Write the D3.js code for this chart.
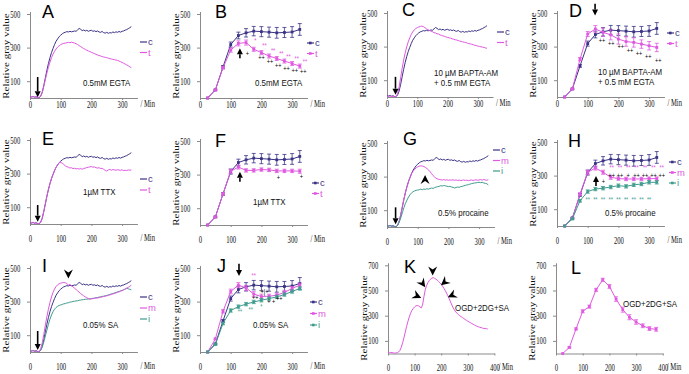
<!DOCTYPE html>
<html>
<head>
<meta charset="utf-8">
<script src="https://cdn.jsdelivr.net/npm/d3@7"></script>
<style>
  body { margin: 0; background: #fff; }
  svg { display: block; }
</style>
</head>
<body>
<svg id="fig" width="689" height="374"></svg>
<script>
// ---- data: continuous traces, sampled every 5 min ----
const traceTime = d3.range(0, 331, 5);
const ctrlTrace = [8,6,9,5,7,3,2,12,35,75, 120,165,205,240,270,295,318,338,352,365,
  374,382,388,391,395,393,397,394,396,399, 397,405,414,409,401,405,399,403,397,401,
  403,397,400,395,399,393,391,396,389,386, 391,385,389,387,393,389,394,391,396,392,
  397,399,404,407,413,418,425];
const egtaTrace = [8,6,9,5,7,3,2,12,33,70, 110,148,183,214,240,261,278,292,303,311,
  318,322,325,327,329,331,329,332,330,327, 323,318,312,306,300,294,289,284,280,276,
  272,268,264,260,256,253,250,247,244,242, 240,237,235,232,230,228,226,224,220,216,
  212,207,202,197,192,186,180];
const baptaTrace = [5,4,6,3,5,2,3,20,60,115, 170,220,262,298,328,352,372,388,400,408,
  413,417,420,422,419,413,406,401,396,392, 389,383,381,376,375,369,367,363,361,357,
  355,352,350,346,344,341,339,336,333,331, 328,326,324,321,318,316,314,311,308,306,
  303,301,299,297,295,292,290];
const ttxTrace = [8,6,9,5,7,3,2,12,35,75, 120,165,205,240,270,295,318,338,352,365,
  366,362,355,346,341,338,333,335,330,332, 328,330,327,330,326,330,333,336,338,340,
  342,338,340,335,333,335,330,332,325,320, 315,322,325,320,324,322,320,323,321,320,
  322,318,320,318,322,320,322];
const procMTrace = [8,6,9,5,7,3,2,12,35,75, 120,165,205,240,270,295,318,332,343,352,
  358,362,364,363,360,355,348,340,330,318, 306,297,290,286,283,281,280,282,279,281,
  278,280,279,281,278,280,277,279,276,278, 280,277,279,276,278,280,277,279,281,278,
  280,282,279,283,280,278,282];
const procITrace = [8,6,9,5,7,3,2,10,30,55, 85,115,140,160,178,192,203,210,215,218,
  220,222,225,222,226,224,228,225,229,232, 230,234,238,240,242,246,244,247,245,243,
  240,242,238,236,232,235,238,236,240,242, 245,248,250,252,255,258,260,262,263,265,
  266,264,266,262,260,258,250];
const saMTrace = [8,6,9,5,7,3,2,20,55,105, 160,210,255,295,328,355,375,390,400,406,
  410,412,414,412,408,398,402,395,388,380, 372,364,356,348,341,334,328,323,318,315,
  316,318,320,322,321,324,326,328,330,332, 335,337,340,342,346,348,352,355,358,362,
  366,370,375,380,385,390,398];
const saITrace = [8,6,9,5,7,3,2,10,30,60, 95,130,165,195,220,240,255,265,272,277,
  280,283,287,288,292,293,297,298,301,302, 304,305,308,309,311,312,314,314,316,316,
  318,320,320,323,324,327,328,331,332,335, 336,340,342,346,348,352,354,358,360,364,
  366,371,374,379,376,373,370];
const ogdTime = d3.range(0, 376, 5);
const ogdTrace = [8,6,9,7,5,3,4,6,12,25, 50,85,125,170,215,255,290,320,342,358,
  370,378,381,378,370,362,385,450,505,540, 562,578,590,598,602,597,590,582,572,562,
  550,535,518,500,480,458,435,410,385,362, 345,330,318,308,300,292,285,278,270,263,
  256,250,244,238,232,226,221,216,212,208, 205,202,198,200,196,195];

// ---- data: means with error bars, every 25 min ----
const meanTime = [25,50,75,100,125,150,175,200,225,250,275,300,325];
const ctrlMean = [0,48,185,318,372,388,398,395,392,388,390,393,408];
const ctrlErr  = [0,4,8,15,20,25,28,30,30,32,30,32,35];
const egtaMean = [0,48,180,285,325,330,290,270,250,235,220,205,190];
const egtaErr  = [0,4,8,12,15,15,12,12,12,12,12,12,12];
const baptaMean = [0,48,225,375,405,385,370,345,330,325,315,305,295];
const baptaErr  = [0,4,10,15,20,25,30,30,28,28,25,25,25];
const ttxMean = [0,48,185,320,345,325,325,330,328,322,322,322,320];
const ttxErr  = [0,4,8,12,12,10,10,10,10,10,10,10,12];
const procMMean = [0,45,190,320,345,320,290,282,280,280,280,282,282];
const procMErr  = [0,4,8,12,12,12,12,10,10,10,10,10,10];
const procIMean = [0,42,150,205,220,225,232,240,236,245,250,260,260];
const procIErr  = [0,4,8,10,10,10,10,10,10,10,10,10,10];
const saMMean = [0,78,242,360,398,382,345,330,332,338,355,378,398];
const saMErr  = [0,5,10,14,15,15,14,14,12,12,12,12,12];
const saIMean = [0,45,170,247,270,285,298,308,318,328,342,360,378];
const saIErr  = [0,4,8,10,10,10,10,10,10,10,10,10,10];
const ogdMeanTime = [25,50,75,100,125,150,175,200,225,250,275,300,325,350,375];
const ogdMean = [0,48,195,335,372,505,585,532,432,348,288,250,220,198,192];
const ogdErr  = [0,5,8,12,12,12,12,15,18,20,20,18,15,15,15];

// ---- significance marks: [time, value, text] ----
const marksB = { m: [[180,340,"*"],[210,312,"**"],[238,282,"**"],[265,262,"**"],[288,246,"**"],[315,236,"**"],[342,216,"**"]],
                 k: [[154,266,"+"],[200,240,"++"],[228,216,"++"],[255,196,"++"],[282,177,"++"],[309,163,"++"],[336,157,"++"]] };
const marksD = { k: [[147,335,"++"],[177,320,"++"],[208,300,"++"],[238,276,"++"],[267,260,"++"],[297,240,"++"],[330,220,"++"]] };
const marksF = { k: [[255,284,"+"],[330,287,"+"]] };
const marksH = { m: [[178,350,"**"],[205,350,"**"],[232,350,"**"],[259,350,"**"],[287,350,"**"],[314,350,"**"],[341,350,"**"]],
                 k: [[151,262,"+"],[178,300,"++"],[205,300,"++"],[232,300,"+"],[259,300,"++"],[287,300,"++"],[314,300,"++"],[341,300,"++"]],
                 i: [[100,160,"**"],[125,160,"**"],[150,160,"**"],[175,160,"**"],[200,160,"**"],[225,160,"**"],[250,160,"**"],[275,160,"**"],[300,160,"**"]] };
const marksJ = { m: [[175,455,"**"]],
                 k: [[180,325,"++"],[210,360,"+|+"],[232,298,"+ +"],[258,318,"++"]],
                 i: [[130,240,"**"],[165,255,"**"],[200,270,"*"]] };

const NAVY = "#3a3386", MAG = "#e058e0", TEAL = "#3f9c8e", AXIS = "#8a8a8a";
const colorOf = { c: NAVY, t: MAG, m: MAG, i: TEAL, k: "#000" };

const svg = d3.select("#fig");

// panel layout (pixel geometry)
const panels = [
  { id:"A", left:30,  bottom:98,  kx:0.307, ky:0.168, kind:"trace", time:traceTime,
    series:[["c",ctrlTrace],["t",egtaTrace]], leg:[140,42,10.5], note:[[83,86,"0.5mM EGTA"]],
    letter:[42,18], arrows:[[25,125,5]] },
  { id:"B", left:200, bottom:98,  kx:0.307, ky:0.168, kind:"mean",
    series:[["c",ctrlMean,ctrlErr],["t",egtaMean,egtaErr]], leg:[307,43,10.5], note:[[255,86,"0.5mM EGTA"]],
    letter:[215,18], arrows:[[130,236,296]], marks:marksB },
  { id:"C", left:387, bottom:97,  kx:0.303, ky:0.168, kind:"trace", time:traceTime,
    series:[["c",ctrlTrace],["t",baptaTrace]], leg:[497,32,10.5], note:[[434,76,"10 µM BAPTA-AM"],[434,86,"+ 0.5 mM EGTA"]],
    letter:[402,16], arrows:[[28,120,14]] },
  { id:"D", left:557, bottom:97,  kx:0.307, ky:0.168, kind:"mean",
    series:[["c",ctrlMean,ctrlErr],["t",baptaMean,baptaErr]], leg:[667,33,10.5], note:[[598,75,"10 µM BAPTA-AM"],[598,85,"+ 0.5 mM EGTA"]],
    letter:[569,17], arrows:[[124,555,485]], marks:marksD },
  { id:"E", left:30,  bottom:224, kx:0.307, ky:0.168, kind:"trace", time:traceTime,
    series:[["c",ctrlTrace],["t",ttxTrace]], leg:[140,179,11], note:[[83,195,"1µM TTX"]],
    letter:[42,145], arrows:[[25,113,14]] },
  { id:"F", left:200, bottom:225, kx:0.307, ky:0.168, kind:"mean",
    series:[["c",ctrlMean,ctrlErr],["t",ttxMean,ttxErr]], leg:[312,183,10.5], note:[[253,205,"1µM TTX"]],
    letter:[215,147], arrows:[[130,258,317]], marks:marksF },
  { id:"G", left:387, bottom:227, kx:0.307, ky:0.168, kind:"trace", time:traceTime,
    series:[["c",ctrlTrace],["m",procMTrace],["i",procITrace]], leg:[493,150,10.5], note:[[438,216,"0.5% procaine"]],
    letter:[403,145], arrows:[[28,117,17]], heads:[[124,310,-90]] },
  { id:"H", left:557, bottom:226, kx:0.307, ky:0.168, kind:"mean",
    series:[["c",ctrlMean,ctrlErr],["m",procMMean,procMErr],["i",procIMean,procIErr]], leg:[669,162,10.5], note:[[605,216,"0.5% procaine"]],
    letter:[568,147], arrows:[[127,238,298]], marks:marksH },
  { id:"I", left:30,  bottom:352, kx:0.307, ky:0.168, kind:"trace", time:traceTime,
    series:[["c",ctrlTrace],["i",saITrace],["m",saMTrace]], legOrder:["c","m","i"], leg:[140,297,11], note:[[83,328,"0.05% SA"]],
    letter:[42,272], arrows:[[25,125,12]], heads:[[125,437,90]] },
  { id:"J", left:200, bottom:352, kx:0.307, ky:0.168, kind:"mean",
    series:[["c",ctrlMean,ctrlErr],["m",saMMean,saMErr],["i",saIMean,saIErr]], leg:[310,302,11.5], note:[[253,328,"0.05% SA"]],
    letter:[217,272], arrows:[[127,525,452]], marks:marksJ },
  { id:"K", left:388, bottom:353.5, kx:0.266, ky:0.126, kind:"trace", time:ogdTime, yMax:720, yTicks:[100,300,500,700], xMax:400,
    series:[["m",ogdTrace]], note:[[455,311,"OGD+2DG+SA"]],
    letter:[404,273], heads:[[125,441,25],[140,525,55],[168,620,90],[199,541,140],[225,446,155]] },
  { id:"L", left:556, bottom:353.5, kx:0.267, ky:0.126, kind:"mean", yMax:720, yTicks:[100,300,500,700], xMax:400, time:ogdMeanTime,
    series:[["m",ogdMean,ogdErr]], note:[[623,307,"OGD+2DG+SA"]],
    letter:[571,274] }
];

function arrow(g, x1, y1, x2, y2) {
  const a = Math.atan2(y2 - y1, x2 - x1), hl = 6, hw = 3;
  const bx = x2 - hl * Math.cos(a), by = y2 - hl * Math.sin(a);
  g.append("line").attr("x1", x1).attr("y1", y1).attr("x2", bx).attr("y2", by)
    .attr("stroke", "#000").attr("stroke-width", 1.6);
  g.append("path")
    .attr("d", `M${x2},${y2}L${bx - hw * Math.sin(a)},${by + hw * Math.cos(a)}L${bx + hw * Math.sin(a)},${by - hw * Math.cos(a)}Z`)
    .attr("fill", "#000");
}

function chevron(g, x, y, deg) {
  g.append("path").attr("d", "M0,0L-9,-4.5L-6,0L-9,4.5Z")
    .attr("transform", `translate(${x},${y}) rotate(${deg})`)
    .attr("fill", "#000");
}

function drawPanel(p) {
  const g = svg.append("g").attr("class", "panel-" + p.id);
  const yMax = p.yMax || 515, xMax = p.xMax || 350;
  const x = d3.scaleLinear().domain([0, xMax]).range([p.left, p.left + xMax * p.kx]);
  const y = d3.scaleLinear().domain([0, yMax]).range([p.bottom, p.bottom - yMax * p.ky]);
  const row1 = p.bottom < 110;

  // y axis
  const ya = g.append("g").attr("transform", `translate(${p.left},0)`)
    .call(d3.axisLeft(y).tickValues(p.yTicks || [100, 300, 500]).tickSize(3).tickSizeOuter(0));
  // x axis
  const xa = g.append("g").attr("transform", `translate(0,${p.bottom})`)
    .call(d3.axisBottom(x).tickValues(xMax === 400 ? [0, 100, 200, 300, 400] : [0, 100, 200, 300])
      .tickSize(2).tickSizeOuter(0).tickPadding(row1 ? 1 : 9));
  [ya, xa].forEach(a => {
    a.select(".domain").attr("stroke", AXIS);
    a.selectAll(".tick line").attr("stroke", AXIS);
    a.selectAll("text").attr("font-family", "Liberation Serif, serif").attr("font-size", 9.5).attr("fill", "#111");
  });
  ya.selectAll("text").attr("x", -14).attr("transform", "scale(0.7,1)");
  xa.selectAll("text").attr("transform", "scale(0.7,1)");

  const minY = p.bottom + (row1 ? 8.5 : 16.5);
  g.append("text")
    .attr("transform", `translate(${x(xMax) + (xMax === 400 ? 4 : 3)},${minY}) scale(0.7,1)`)
    .attr("font-family", "Liberation Serif, serif").attr("font-size", 9.5).attr("fill", "#111")
    .text("/ Min");

  g.append("text")
    .attr("transform", `translate(${p.left - 21},${(y(500) + p.bottom) / 2 + (p.yMax ? -4 : 0)}) scale(0.72,1) rotate(-90)`)
    .attr("text-anchor", "middle")
    .attr("font-family", "Liberation Serif, serif").attr("font-size", 11).attr("fill", "#111")
    .text("Relative gray value");

  // data
  const line = d3.line().x(d => x(d[0])).y(d => y(d[1]));
  if (p.kind === "trace") {
    p.series.forEach(([name, vals]) => {
      const pts = p.time.map((t, i) => [t, vals[i]]);
      g.append("path").attr("d", line(pts)).attr("fill", "none")
        .attr("stroke", colorOf[name]).attr("stroke-width", 1);
    });
  } else {
    const times = p.time || meanTime;
    p.series.forEach(([name, vals, errs]) => {
      const col = colorOf[name];
      const pts = times.map((t, i) => [t, vals[i], errs[i]]);
      g.append("path").attr("d", line(pts)).attr("fill", "none")
        .attr("stroke", col).attr("stroke-width", 1);
      const eb = g.append("g").attr("stroke", col).attr("stroke-width", 0.8);
      pts.filter(d => d[2] > 0).forEach(d => {
        eb.append("line").attr("x1", x(d[0])).attr("x2", x(d[0]))
          .attr("y1", y(d[1] - d[2])).attr("y2", y(d[1] + d[2]));
        [d[1] - d[2], d[1] + d[2]].forEach(v => eb.append("line")
          .attr("x1", x(d[0]) - 2).attr("x2", x(d[0]) + 2).attr("y1", y(v)).attr("y2", y(v)));
      });
      g.selectAll(null).data(pts).enter().append("rect")
        .attr("x", d => x(d[0]) - 1.4).attr("y", d => y(d[1]) - 1.4)
        .attr("width", 2.8).attr("height", 2.8).attr("fill", col);
    });
  }

  // significance marks
  if (p.marks) {
    Object.entries(p.marks).forEach(([k, arr]) => {
      g.selectAll(null).data(arr).enter().append("text")
        .attr("transform", d => `translate(${x(d[0])},${y(d[1]) + 2.5}) scale(0.8,1)`)
        .attr("text-anchor", "middle")
        .attr("font-family", "Liberation Sans, Arial, sans-serif").attr("font-size", 7)
        .attr("fill", colorOf[k]).text(d => d[2]);
    });
  }

  // legend
  if (p.leg) {
    const order = p.legOrder || p.series.map(s => s[0]);
    order.forEach((name, i) => {
      const ly = p.leg[1] + i * p.leg[2];
      g.append("line").attr("x1", p.leg[0]).attr("x2", p.leg[0] + 7).attr("y1", ly).attr("y2", ly)
        .attr("stroke", colorOf[name]).attr("stroke-width", 1.2);
      if (p.kind === "mean") {
        g.append("rect").attr("x", p.leg[0] + 2).attr("y", ly - 1.3).attr("width", 2.6).attr("height", 2.6)
          .attr("fill", colorOf[name]);
      }
      g.append("text").attr("x", p.leg[0] + 8).attr("y", ly + 3)
        .attr("font-family", "Liberation Sans, Arial, sans-serif").attr("font-size", 9.5)
        .attr("fill", colorOf[name]).text(name);
    });
  }

  // notes
  (p.note || []).forEach(([nx, ny, txt]) => {
    g.append("text").attr("transform", `translate(${nx},${ny}) scale(0.88,1)`)
      .attr("font-family", "Liberation Sans, Arial, sans-serif").attr("font-size", 9)
      .attr("fill", "#111").text(txt);
  });

  // panel letter
  g.append("text").attr("x", p.letter[0]).attr("y", p.letter[1])
    .attr("font-family", "Liberation Sans, Arial, sans-serif").attr("font-size", 18)
    .attr("fill", "#000").text(p.id);

  (p.arrows || []).forEach(([t, v1, v2]) => arrow(g, x(t), y(v1), x(t), y(v2)));
  (p.heads || []).forEach(([t, v, deg]) => chevron(g, x(t), y(v), deg));
}

panels.forEach(drawPanel);
</script>
</body>
</html>
